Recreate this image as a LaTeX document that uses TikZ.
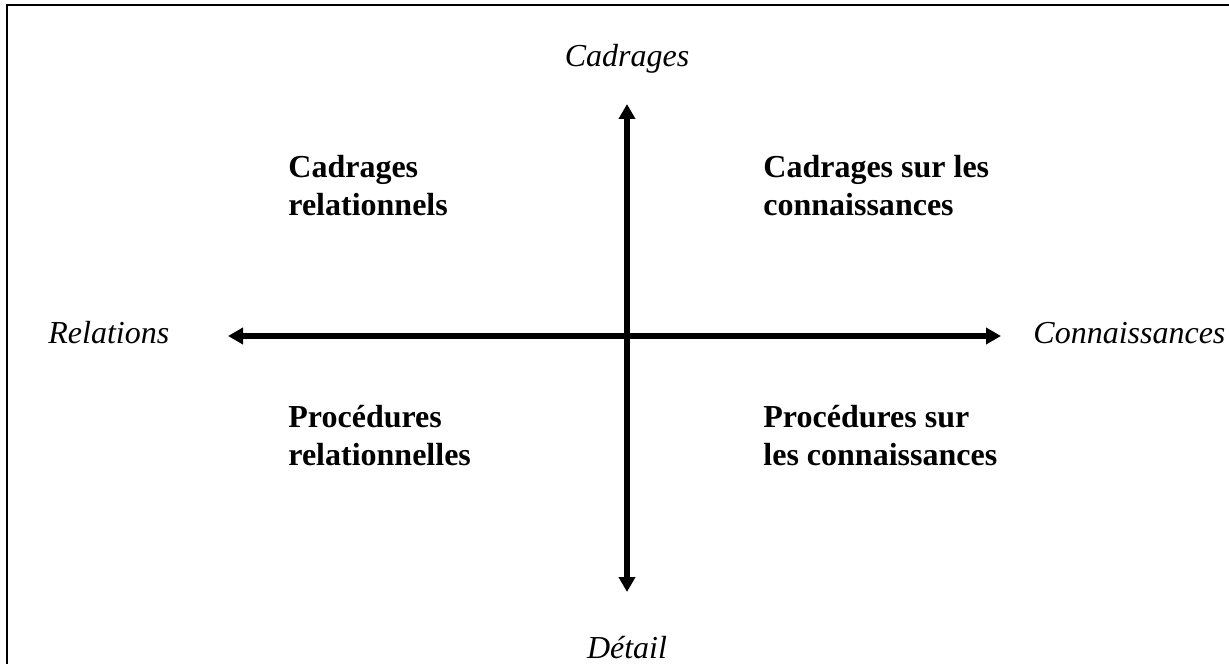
\documentclass[tikz,border=0pt]{standalone}
\usepackage{fontspec}
\setmainfont{Liberation Serif}
\usetikzlibrary{arrows.meta, positioning}

\begin{document}
\begin{tikzpicture}[
  x=0.5pt, y=-0.5pt,
  pole/.style={inner sep=0pt, font=\fontsize{16}{19}\selectfont\itshape},
  quad/.style={inner sep=0pt, align=left, anchor=base west, font=\fontsize{16}{19}\selectfont\bfseries},
  axis/.style={{Triangle[length=7.5pt, width=8pt]}-{Triangle[length=7.5pt, width=8pt]}, line width=2.6pt}
]
  \useasboundingbox (0,0) rectangle (1229,663);
  \draw[line width=1pt] (7,5) rectangle (1260,700);

  \coordinate (west) at (228,336);
  \coordinate (east) at (1001,336);
  \coordinate (north) at (627,104);
  \coordinate (south) at (627,592);

  \draw[axis] (west) -- (east);
  \draw[axis] (north) -- (south);

  \node[pole, anchor=base] (cadr) at (627,67) {Cadrages};
  \node[pole, anchor=base] (det) at (627,658) {Détail};
  \node[pole, anchor=base west] (rel) at (48,343) {Relations};
  \node[pole, anchor=base west] (conn) at (1033,343) {Connaissances};

  % base anchor sits on the last line
  \node[quad] (cr) at (288,215) {Cadrages\\relationnels};
  \node[quad] (cc) at (763,215) {Cadrages sur les\\connaissances};
  \node[quad] (pr) at (288,465) {Procédures\\relationnelles};
  \node[quad] (pc) at (763,465) {Procédures sur\\les connaissances};
\end{tikzpicture}
\end{document}
